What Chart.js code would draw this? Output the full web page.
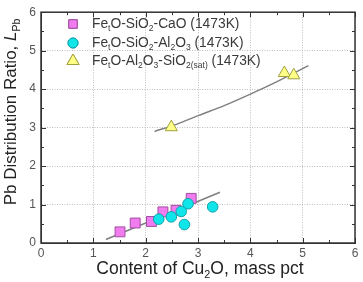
<!DOCTYPE html>
<html><head><meta charset="utf-8">
<script src="https://cdn.jsdelivr.net/npm/chart.js@4"></script>
<style>html,body{margin:0;padding:0;background:#fff}#c{display:block}</style>
</head><body>
<canvas id="c" width="363" height="282"></canvas>
<script>
// Data
const caoX = [1.51, 1.80, 2.11, 2.33, 2.58, 2.87];
const caoY = [0.29, 0.52, 0.56, 0.81, 0.85, 1.16];
const alX = [2.25, 2.49, 2.68, 2.74, 2.81, 3.28];
const alY = [0.62, 0.68, 0.82, 0.48, 1.02, 0.94];
const satX = [2.49, 4.65, 4.83];
const satY = [3.01, 4.42, 4.36];
const fitLowX = [1.24, 3.42];
const fitLowY = [0.09, 1.32];
const fitHighX = [2.17, 2.6, 3.0, 3.5, 4.0, 4.5, 5.11];
const fitHighY = [2.90, 3.09, 3.31, 3.57, 3.87, 4.19, 4.61];
const xTicks = [0, 1, 2, 3, 4, 5, 6];
const yTicks = [0, 1, 2, 3, 4, 5, 6];

const zip = (xs, ys) => xs.map((x, i) => ({x, y: ys[i]}));
const FONT = '"Liberation Sans", Arial, sans-serif';

function richWidth(ctx, segs, size) {
  let w = 0;
  for (const [t, m] of segs) {
    ctx.font = (m === 'i' ? 'italic ' : '') + (m === 's' ? size * 0.62 : size) + 'px ' + FONT;
    w += ctx.measureText(t).width;
  }
  return w;
}
function drawRich(ctx, segs, x, y, size) {
  ctx.textBaseline = 'middle';
  ctx.textAlign = 'left';
  for (const [t, m] of segs) {
    const sz = m === 's' ? size * 0.62 : size;
    ctx.font = (m === 'i' ? 'italic ' : '') + sz + 'px ' + FONT;
    ctx.fillText(t, x, m === 's' ? y + size * 0.33 : y);
    x += ctx.measureText(t).width;
  }
}

const decor = {
  id: 'decor',
  afterDraw(chart) {
    const ctx = chart.ctx, a = chart.chartArea;
    const xs = chart.scales.x, ys = chart.scales.y;
    ctx.save();
    ctx.strokeStyle = '#333';
    ctx.lineWidth = 1;
    ctx.beginPath();
    for (let v = 0; v <= 6.001; v += 0.5) {
      const major = Math.abs(v - Math.round(v)) < 1e-6;
      const L = major ? 5 : 3;
      const px = Math.round(xs.getPixelForValue(v)) + 0.5;
      ctx.moveTo(px, a.bottom); ctx.lineTo(px, a.bottom - L);
      ctx.moveTo(px, a.top); ctx.lineTo(px, a.top + L);
      const py = Math.round(ys.getPixelForValue(v)) + 0.5;
      ctx.moveTo(a.left, py); ctx.lineTo(a.left + L, py);
      ctx.moveTo(a.right, py); ctx.lineTo(a.right - L, py);
    }
    ctx.stroke();
    ctx.lineWidth = 1.5;
    ctx.strokeStyle = '#333';
    ctx.strokeRect(a.left, a.top, a.right - a.left, a.bottom - a.top);

    const items = [
      {style: 'rect', r: 6, fill: '#f07cf0', stroke: '#a050a0', y: 24,
       segs: [['Fe','n'],['t','s'],['O-SiO','n'],['2','s'],['-CaO (1473K)','n']]},
      {style: 'circle', r: 5, fill: '#10e6ea', stroke: '#10a0a8', y: 43,
       segs: [['Fe','n'],['t','s'],['O-SiO','n'],['2','s'],['-Al','n'],['2','s'],['O','n'],['3','s'],[' (1473K)','n']]},
      {style: 'triangle', r: 7, fill: '#ffff88', stroke: '#a0a040', y: 61,
       segs: [['Fe','n'],['t','s'],['O-Al','n'],['2','s'],['O','n'],['3','s'],['-SiO','n'],['2(sat)','s'],[' (1473K)','n']]}
    ];
    for (const it of items) {
      ctx.fillStyle = it.fill; ctx.strokeStyle = it.stroke; ctx.lineWidth = 1;
      Chart.helpers.drawPoint(ctx, {pointStyle: it.style, radius: it.r, borderWidth: 1}, 73, it.y);
      ctx.fill(); ctx.stroke();
      ctx.fillStyle = '#3a3a3a';
      drawRich(ctx, it.segs, 92, it.y, 13.8);
    }

    ctx.fillStyle = '#222';
    const xt = [['Content of Cu','n'],['2','s'],['O, mass pct','n']];
    const xw = richWidth(ctx, xt, 17.5);
    drawRich(ctx, xt, 200 - xw / 2, 269, 17.5);
    ctx.save();
    ctx.translate(11, 112);
    ctx.rotate(-Math.PI / 2);
    const yt = [['Pb Distribution Ratio, ','n'],['L','i'],['Pb','s']];
    const yw = richWidth(ctx, yt, 17);
    drawRich(ctx, yt, -yw / 2, 0, 17);
    ctx.restore();
    ctx.restore();
  }
};

new Chart(document.getElementById('c'), {
  type: 'scatter',
  data: {
    datasets: [
      {label: 'fitLow', data: zip(fitLowX, fitLowY), showLine: true, pointRadius: 0,
       borderColor: '#808080', borderWidth: 1.5, order: 5},
      {label: 'fitHigh', data: zip(fitHighX, fitHighY), showLine: true, pointRadius: 0,
       borderColor: '#808080', borderWidth: 1.5, tension: 0.4, cubicInterpolationMode: 'monotone', order: 5},
      {label: 'CaO', data: zip(caoX, caoY), pointStyle: 'rect', pointRadius: 7,
       backgroundColor: '#f07cf0', borderColor: '#a050a0', borderWidth: 1, order: 3},
      {label: 'Al2O3', data: zip(alX, alY), pointStyle: 'circle', pointRadius: 5.3,
       backgroundColor: '#10e6ea', borderColor: '#10a0a8', borderWidth: 1, order: 2},
      {label: 'sat', data: zip(satX, satY), pointStyle: 'triangle', pointRadius: 7,
       backgroundColor: '#ffff88', borderColor: '#a0a040', borderWidth: 1, order: 1}
    ]
  },
  options: {
    responsive: false,
    animation: false,
    layout: {padding: {left: 0, right: 5, top: 6, bottom: 0}},
    plugins: {legend: {display: false}, tooltip: {enabled: false}},
    scales: {
      x: {
        type: 'linear', min: 0, max: 6,
        afterBuildTicks: s => { s.ticks = xTicks.map(v => ({value: v})); },
        afterFit: s => { s.height = 39; },
        ticks: {color: '#555', font: {family: FONT, size: 12}, padding: 3},
        grid: {color: '#bdbdbd', lineWidth: 1, drawTicks: false},
        border: {display: true, color: '#333', dash: [1, 1.5]}
      },
      y: {
        type: 'linear', min: 0, max: 6,
        afterBuildTicks: s => { s.ticks = yTicks.map(v => ({value: v})); },
        afterFit: s => { s.width = 41; },
        ticks: {color: '#555', font: {family: FONT, size: 12}, padding: 5},
        grid: {color: '#bdbdbd', lineWidth: 1, drawTicks: false},
        border: {display: true, color: '#333', dash: [1, 1.5]}
      }
    }
  },
  plugins: [decor]
});
</script>
</body></html>
